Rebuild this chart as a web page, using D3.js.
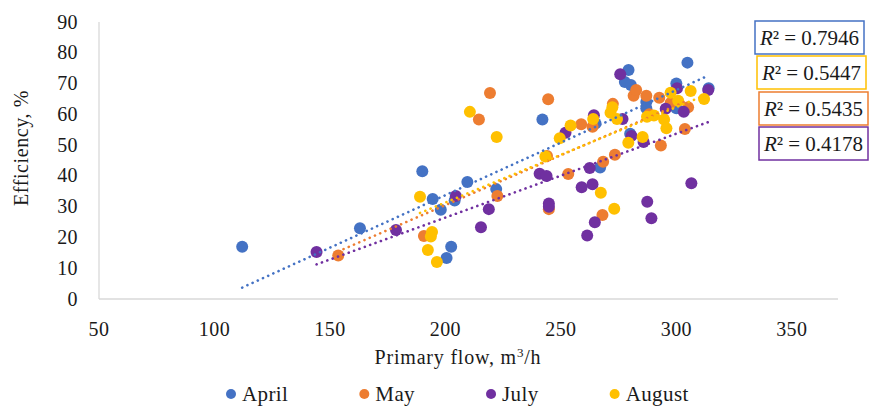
<!DOCTYPE html>
<html>
<head>
<meta charset="utf-8">
<script src="https://cdn.jsdelivr.net/npm/d3@7/dist/d3.min.js"></script>
<style>
  body { margin: 0; background: #fff; }
  svg text { font-family: "Liberation Serif", "DejaVu Serif", serif; fill: #1a1a1a; }
</style>
</head>
<body>
<svg id="chart" width="873" height="409"></svg>
<script>
// Primary flow (m3/h) / efficiency (%) pairs
const april = [
    [112, 17], [163, 23], [190, 41.5], [194.5, 32.5], [198, 29], [200.5, 13.3],
    [202.5, 17], [204, 32], [209.5, 38], [222, 35.7], [242, 58.3], [267, 42.7],
    [265, 57], [277.7, 70.5], [279.3, 74.4], [280.3, 69.5], [280, 53.7], [287, 64],
    [287, 62], [300, 70], [300, 62], [304.8, 76.8], [314, 68.5]
];
const may = [
    [153.6, 14.1], [190.7, 20.5], [214.5, 58.3], [219.3, 66.9], [222.5, 33.5],
    [244.5, 64.9], [244, 46.5], [244.8, 29.2], [253.2, 40.6], [258.8, 56.8],
    [263.7, 56], [268.3, 44.6], [268, 27.3], [272.5, 63.4], [273.4, 46.9],
    [281.5, 66], [282.6, 67.9], [287, 66], [288.3, 60], [292.6, 65.4],
    [293.3, 49.9], [297.5, 63.7], [303.7, 55.2], [305.1, 62.3]
];
const july = [
    [144.2, 15.3], [178.6, 22.4], [204.5, 33.5], [215.4, 23.3], [218.8, 29.2],
    [240.8, 40.7], [243.8, 40], [244.8, 31], [244.8, 30], [252, 54], [259, 36.3],
    [261.4, 20.6], [262.5, 42.6], [263.7, 37.3], [264.3, 59.7], [264.7, 24.9],
    [275.7, 73], [276.7, 58.5], [280.6, 53], [285.8, 51], [287.4, 31.6],
    [289.2, 26.2], [295.4, 61.8], [300.3, 68.5], [303.2, 60.8], [306.5, 37.6],
    [313.8, 67.9]
];
const august = [
    [189, 33.2], [192.4, 15.9], [194.2, 21.8], [193.7, 20.3], [196.3, 12],
    [210.6, 60.8], [222.2, 52.6], [243.3, 46.3], [249.5, 52.2], [254.2, 56.4],
    [264, 58.5], [267.3, 34.5], [271.5, 60.5], [272.3, 62.3], [273.1, 29.3],
    [274.3, 58.5], [279.2, 50.8], [285.4, 52.6], [287.3, 59.2], [290.3, 59.6],
    [294.7, 58.3], [295.7, 55.5], [297.5, 67], [300.8, 64.4], [306.2, 67.6],
    [312, 65]
];

const months = ["April", "May", "July", "August"];
const colors = ["#4472C4", "#ED7D31", "#7030A0", "#FFC000"];
// linear trendlines (efficiency = slope * flow + intercept)
const trendSlope = [0.3414, 0.324, 0.2726, 0.31];
const trendIntercept = [-34.54, -34.3, -28.06, -30.65];
const xTicks = [50, 100, 150, 200, 250, 300, 350];
const yTicks = [0, 10, 20, 30, 40, 50, 60, 70, 80, 90];
// R² labels, stacked top to bottom in this order
const r2Order = ["April", "August", "May", "July"];
const r2Text = ["0.7946", "0.5447", "0.5435", "0.4178"];

const seriesData = [april, may, july, august];

const svg = d3.select("#chart");
const x = d3.scaleLinear().domain([50, 370]).range([99, 838]);
const y = d3.scaleLinear().domain([0, 90]).range([299, 22]);

// axes: light grey lines, no tick marks
svg.append("line")
    .attr("x1", x(50)).attr("x2", x(370))
    .attr("y1", y(0)).attr("y2", y(0))
    .attr("stroke", "#d9d9d9").attr("stroke-width", 1.3);
svg.append("line")
    .attr("x1", x(50)).attr("x2", x(50))
    .attr("y1", y(0)).attr("y2", y(90))
    .attr("stroke", "#d9d9d9").attr("stroke-width", 1.3);

svg.append("g").selectAll("text")
    .data(xTicks)
    .join("text")
    .attr("x", d => x(d))
    .attr("y", 336)
    .attr("text-anchor", "middle")
    .style("font-size", "20px")
    .style("letter-spacing", "0.4px")
    .text(d => d);

svg.append("g").selectAll("text")
    .data(yTicks)
    .join("text")
    .attr("x", 78)
    .attr("y", d => y(d) + 6.5)
    .attr("text-anchor", "end")
    .style("font-size", "20px")
    .style("letter-spacing", "0.4px")
    .text(d => d);

svg.append("text")
    .attr("transform", "translate(28,148) rotate(-90)")
    .attr("text-anchor", "middle")
    .style("font-size", "20px")
    .style("letter-spacing", "0.6px")
    .text("Efficiency, %");

const xt = svg.append("text")
    .attr("x", 458)
    .attr("y", 364)
    .attr("text-anchor", "middle")
    .style("font-size", "20px")
    .style("letter-spacing", "0.8px");
xt.append("tspan").text("Primary flow, m");
xt.append("tspan").attr("dy", -7).style("font-size", "13px").text("3");
xt.append("tspan").attr("dy", 7).text("/h");

// markers
seriesData.forEach((data, i) => {
    svg.append("g").selectAll("circle")
        .data(data)
        .join("circle")
        .attr("cx", d => x(d[0]))
        .attr("cy", d => y(d[1]))
        .attr("r", 6)
        .attr("fill", colors[i]);
});

// dotted trendlines over each series' flow range, drawn on top of the markers
seriesData.forEach((data, i) => {
    const [x0, x1] = d3.extent(data, d => d[0]);
    const f = v => trendSlope[i] * v + trendIntercept[i];
    svg.append("line")
        .attr("x1", x(x0)).attr("y1", y(f(x0)))
        .attr("x2", x(x1)).attr("y2", y(f(x1)))
        .attr("stroke", colors[i])
        .attr("stroke-width", 2.6)
        .attr("stroke-linecap", "round")
        .attr("stroke-dasharray", "0.1 5.6");
});

// R² boxes
const boxTops = [21, 56, 92, 127];
const boxLefts = [755, 757, 759, 759];
r2Order.forEach((m, i) => {
    const c = colors[months.indexOf(m)];
    const g = svg.append("g").attr("transform", `translate(${boxLefts[i]},${boxTops[i]})`);
    g.append("rect")
        .attr("width", 109).attr("height", 33)
        .attr("fill", "#fff")
        .attr("stroke", c).attr("stroke-width", 1.5);
    const t = g.append("text")
        .attr("x", 54.5).attr("y", 23.5)
        .attr("text-anchor", "middle")
        .style("font-size", "21px");
    t.append("tspan").style("font-style", "italic").text("R");
    t.append("tspan").text("² = " + r2Text[i]);
});

// legend
const leg = svg.append("g");
let lx = 231;
months.forEach((m, i) => {
    leg.append("circle").attr("cx", lx).attr("cy", 394).attr("r", 5).attr("fill", colors[i]);
    const t = leg.append("text")
        .attr("x", lx + 11).attr("y", 401)
        .style("font-size", "21px")
        .style("letter-spacing", "0.4px")
        .text(m);
    lx += 11 + t.node().getComputedTextLength() + 76;
});
</script>
</body>
</html>
